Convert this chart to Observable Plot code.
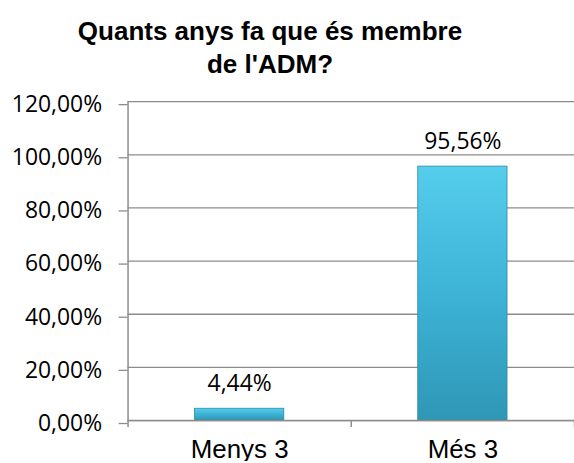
<!DOCTYPE html>
<html><head><meta charset="utf-8">
<script src="https://cdn.jsdelivr.net/npm/d3@7"></script>
<script src="https://cdn.jsdelivr.net/npm/@observablehq/plot@0.6"></script>
<style>
html,body{margin:0;padding:0;background:#fff;overflow:hidden;width:574px;height:463px;position:relative;}
#chart{position:absolute;left:0;top:0;}
#title{position:absolute;left:0;top:0;width:540px;text-align:center;font:bold 26px "Liberation Sans",Arial,sans-serif;line-height:33px;padding-top:15px;color:#000;z-index:2;}
svg{display:block;}
</style>
</head><body>
<div id="chart"></div>
<div id="title">Quants anys fa que és membre<br>de l'ADM?</div>
<script>
const categories = ["Menys 3", "Més 3"];
const values = [0.0444, 0.9556];
const yTicks = [0, 0.2, 0.4, 0.6, 0.8, 1.0, 1.2];

const data = categories.map((c, i) => ({cat: c, i, v: values[i]}));
const fmt = v => (v * 100).toFixed(2).replace(".", ",") + "%";
const numFont = "'Open Sans', Lato, sans-serif";

const plot = Plot.plot({
  width: 576, height: 463,
  marginTop: 101.5, marginBottom: 41.5, marginLeft: 128, marginRight: 0,
  style: {fontFamily: numFont, fontSize: "23px", color: "#000", background: "transparent"},
  x: {type: "linear", domain: [0, categories.length], axis: null},
  y: {type: "linear", domain: [0, 1.2], axis: null},
  marks: [
    Plot.gridY(yTicks, {stroke: "#8c8c8c", strokeOpacity: 1, strokeWidth: 1.3}),
    Plot.axisY(yTicks, {tickSize: 9, tickPadding: 17, dy: 3, tickFormat: fmt, stroke: "#8c8c8c", strokeWidth: 1.3, fontSize: 23, fontFamily: numFont, fill: "#000", label: null}),
    Plot.ruleX([0], {stroke: "#8c8c8c", strokeWidth: 1.5}),
    Plot.rectY(data, {x1: d => d.i + 0.3, x2: d => d.i + 0.7, y1: 0, y2: "v", fill: "url(#barGrad)", stroke: "#2c8aa6", strokeWidth: 0.8}),
    Plot.ruleY([0], {stroke: "#8c8c8c", strokeWidth: 1.5}),
    Plot.axisX(d3.range(categories.length + 1), {tickSize: 7, tickFormat: () => "", stroke: "#8c8c8c", strokeWidth: 1.5, label: null}),
    Plot.text(data, {x: d => d.i + 0.5, y: "v", text: d => fmt(d.v), dy: -25, fontSize: 23, fontFamily: numFont, fill: "#000"}),
    Plot.axisX(categories.map((c, i) => i + 0.5), {tickSize: 0, tickPadding: 19, tickFormat: v => categories[Math.floor(v)], fontSize: 26, fontFamily: "'Liberation Sans', Arial, sans-serif", fill: "#000", stroke: null, label: null})
  ]
});

const svg = d3.select(plot);
const defs = svg.insert("defs", ":first-child");
const g = defs.append("linearGradient").attr("id", "barGrad").attr("x1", 0).attr("y1", 0).attr("x2", 0).attr("y2", 1);
g.append("stop").attr("offset", "0%").attr("stop-color", "#55cdec");
g.append("stop").attr("offset", "50%").attr("stop-color", "#3db3d6");
g.append("stop").attr("offset", "100%").attr("stop-color", "#2f97b6");
document.getElementById("chart").appendChild(plot);
</script>
</body></html>
